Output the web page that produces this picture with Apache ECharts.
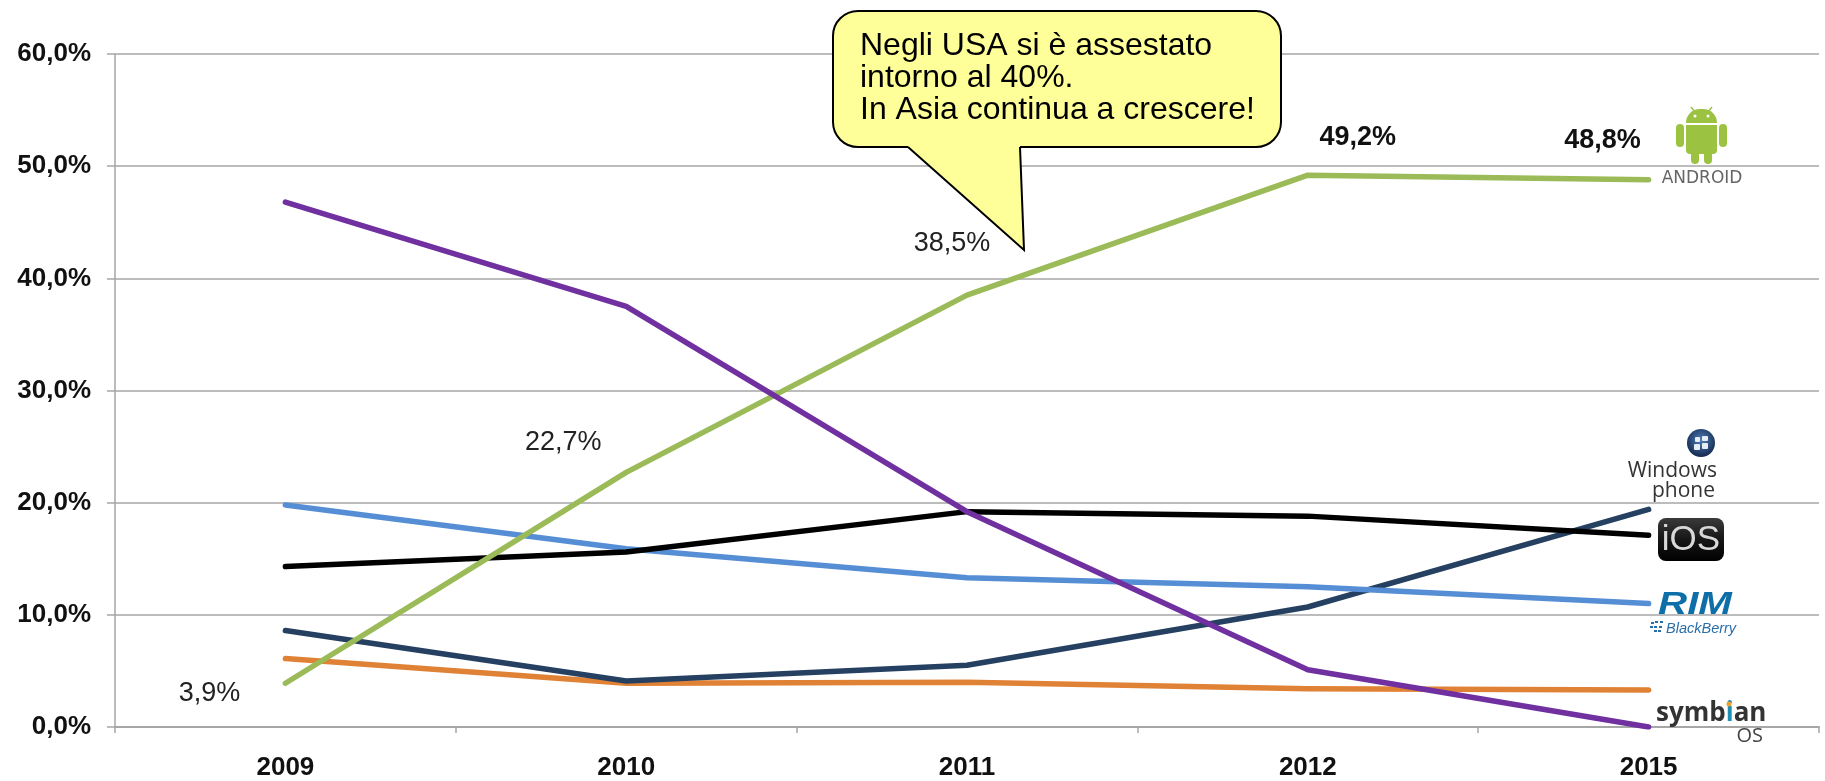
<!DOCTYPE html>
<html>
<head>
<meta charset="utf-8">
<title>Smartphone OS</title>
<style>
  html, body { margin: 0; padding: 0; background: #fff; }
  #chart { width: 1825px; height: 781px; }
</style>
<script src="https://cdn.jsdelivr.net/npm/echarts@6/dist/echarts.min.js"></script>
</head>
<body>
<div id="chart"></div>
<script>
const years = ["2009", "2010", "2011", "2012", "2015"];
const yTickLabels = ["0,0%", "10,0%", "20,0%", "30,0%", "40,0%", "50,0%", "60,0%"];

const android = [3.9, 22.7, 38.5, 49.2, 48.8];
const androidLabels = ["3,9%", "22,7%", "38,5%", "49,2%", "48,8%"];
const symbian = [46.8, 37.5, 19.2, 5.1, 0];
const rim = [19.8, 15.9, 13.3, 12.5, 11.0];
const ios = [14.3, 15.6, 19.2, 18.8, 17.1];
const windowsPhone = [8.6, 4.1, 5.5, 10.7, 19.4];
const others = [6.1, 3.9, 4.0, 3.4, 3.3];

const calloutLines = ["Negli USA si è assestato", "intorno al 40%.", "In Asia continua a crescere!"];

const FONT = '"Liberation Sans", Arial, sans-serif';
const GREY = "#a6a6a6";

function lineSeries(name, data, color) {
  return {
    name: name,
    type: "line",
    data: data,
    symbol: "none",
    smooth: false,
    lineStyle: { color: color, width: 5.5, cap: "round", join: "round" },
  };
}

// label offsets from the point, the labels sit away from the line
const labelOffsets = [[-76, 24], [-63, -16], [-15, -38], [50, -24], [-46, -26]];
const androidSeries = lineSeries("Android", android, "#9bbb59");
androidSeries.symbol = "circle";
androidSeries.symbolSize = 0.1;
androidSeries.itemStyle = { color: "#9bbb59" };
androidSeries.data = android.map((v, i) => ({
  value: v,
  label: {
    show: true,
    position: "top",
    distance: 0,
    offset: labelOffsets[i],
    formatter: androidLabels[i],
    fontFamily: FONT,
    fontSize: 27,
    fontWeight: i >= 3 ? "bold" : "normal",
    color: i >= 3 ? "#111" : "#222",
  },
}));

// text placed by its baseline, zrender has no alphabetic align
function logoText(x, baseline, text, size, font, fill, align) {
  return {
    type: "text",
    x: x,
    y: baseline - 0.35 * size,
    style: { text: text, font: font.replace("SIZE", size + "px"), fill: fill, align: align, verticalAlign: "middle" },
  };
}

function androidLogo() {
  const green = "#9bc240";
  const s = { fill: green };
  return [
    { type: "rect", shape: { x: 1686, y: 109, width: 31, height: 14, r: [15, 15, 0, 0] }, style: s },
    { type: "rect", shape: { x: 1686, y: 125, width: 31, height: 29, r: [0, 0, 4, 4] }, style: s },
    { type: "rect", shape: { x: 1676, y: 124, width: 8, height: 23, r: 4 }, style: s },
    { type: "rect", shape: { x: 1719, y: 124, width: 8, height: 23, r: 4 }, style: s },
    { type: "rect", shape: { x: 1691, y: 150, width: 8, height: 14, r: 4 }, style: s },
    { type: "rect", shape: { x: 1704, y: 150, width: 8, height: 14, r: 4 }, style: s },
    { type: "line", shape: { x1: 1691, y1: 107, x2: 1695, y2: 112 }, style: { stroke: green, lineWidth: 1.5 } },
    { type: "line", shape: { x1: 1712, y1: 107, x2: 1708, y2: 112 }, style: { stroke: green, lineWidth: 1.5 } },
    { type: "circle", shape: { cx: 1695, cy: 116, r: 1.5 }, style: { fill: "#fff" } },
    { type: "circle", shape: { cx: 1708, cy: 116, r: 1.5 }, style: { fill: "#fff" } },
    logoText(1702, 185, "ANDROID", 17, 'SIZE "DejaVu Sans"', "#666", "center"),
  ];
}

function windowsLogo() {
  const squares = [[1695, 437, 5, 5], [1702, 436, 6, 5], [1694, 444, 6, 6], [1702, 443, 6, 6]];
  const out = [
    {
      type: "circle",
      shape: { cx: 1701, cy: 443, r: 14 },
      style: { fill: { type: "radial", x: 0.5, y: 0.4, r: 0.6, colorStops: [{ offset: 0, color: "#4f7fb8" }, { offset: 1, color: "#14284f" }] } },
    },
  ];
  squares.forEach((q) => {
    out.push({ type: "rect", shape: { x: q[0], y: q[1], width: q[2], height: q[3], r: 1 }, style: { fill: "#e8edf3" } });
  });
  out.push(logoText(1717, 478, "Windows", 21, 'SIZE "Open Sans"', "#333", "right"));
  out.push(logoText(1715, 498, "phone", 21, 'SIZE "Open Sans"', "#333", "right"));
  return out;
}

function iosLogo() {
  return [
    { type: "rect", shape: { x: 1658, y: 518, width: 66, height: 43, r: 8 }, style: { fill: { type: "linear", x: 0, y: 0, x2: 0, y2: 1, colorStops: [{ offset: 0, color: "#3a3a3a" }, { offset: 0.5, color: "#161616" }, { offset: 1, color: "#000" }] } } },
    logoText(1691, 553, "iOS", 35, "SIZE " + FONT, "#d8d8d8", "center"),
  ];
}

function rimLogo() {
  const dots = [[1651, 622], [1655, 621], [1660, 621], [1650, 626], [1654, 626], [1659, 626], [1654, 630], [1658, 630]];
  const rimText = logoText(1695, 616, "RIM", 32, "italic bold SIZE " + FONT, "#0e6fa8", "center");
  rimText.scaleX = 1.26;
  const out = [
    rimText,
    logoText(1666, 634, "BlackBerry", 14.5, "italic SIZE " + FONT, "#2a6ea8", "left"),
  ];
  dots.forEach((d) => {
    out.push({ type: "rect", shape: { x: d[0], y: d[1], width: 3, height: 2 }, style: { fill: "#2a6ea8" } });
  });
  return out;
}

function symbianLogo() {
  return [
    {
      type: "text", x: 1656, y: 714,
      style: {
        text: "{a|symb}{b|i}{a|an}",
        align: "left",
        verticalAlign: "middle",
        rich: {
          a: { font: 'bold 26px "Open Sans"', fill: "#333" },
          b: { font: 'bold 26px "Open Sans"', fill: "#1d8fb5" },
        },
      },
    },
    { type: "circle", shape: { cx: 1729, cy: 704, r: 2.5 }, style: { fill: "#f0a030" } },
    logoText(1763, 743, "OS", 20, 'SIZE "Open Sans"', "#444", "right"),
  ];
}

function callout() {
  const out = [
    { type: "rect", shape: { x: 833, y: 11, width: 448, height: 136, r: 25 }, style: { fill: "#ffff99", stroke: "#000", lineWidth: 2 } },
    { type: "polygon", shape: { points: [[908, 146], [1024, 250], [1020, 146]] }, style: { fill: "#ffff99" } },
    { type: "rect", shape: { x: 908, y: 145, width: 112, height: 4 }, style: { fill: "#ffff99" } },
    { type: "polyline", shape: { points: [[908, 147], [1024, 250], [1020, 147]] }, style: { fill: "none", stroke: "#000", lineWidth: 2 } },
  ];
  calloutLines.forEach((t, i) => {
    out.push(logoText(860, 57 + i * 32, t, 32, "SIZE " + FONT, "#000", "left"));
  });
  return out;
}

const chart = echarts.init(document.getElementById("chart"));

chart.setOption({
  animation: false,
  backgroundColor: "#fff",
  grid: { left: 115, right: 6, top: 54, bottom: 53 },
  xAxis: {
    type: "category",
    data: years,
    boundaryGap: true,
    axisLine: { lineStyle: { color: GREY, width: 2 } },
    axisTick: { show: true, length: 6, lineStyle: { color: GREY, width: 1.5 } },
    axisLabel: { margin: 28, fontFamily: FONT, fontSize: 26, fontWeight: "bold", color: "#111", lineHeight: 26 },
  },
  yAxis: {
    type: "value",
    min: 0,
    max: 60,
    interval: 10,
    axisLine: { show: true, lineStyle: { color: GREY, width: 1.5 } },
    axisTick: { show: true, length: 8, lineStyle: { color: GREY, width: 1.5 } },
    splitLine: { lineStyle: { color: GREY, width: 1.5 } },
    axisLabel: {
      margin: 24,
      padding: [0, 0, 2, 0],
      fontFamily: FONT,
      fontSize: 26,
      fontWeight: "bold",
      color: "#111",
      formatter: (v) => yTickLabels[v / 10],
    },
  },
  series: [
    lineSeries("Others", others, "#e08236"),
    lineSeries("Windows Phone", windowsPhone, "#254061"),
    lineSeries("RIM", rim, "#558ed5"),
    lineSeries("iOS", ios, "#000000"),
    androidSeries,
    lineSeries("Symbian", symbian, "#7030a0"),
  ],
  graphic: [].concat(androidLogo(), windowsLogo(), iosLogo(), rimLogo(), symbianLogo(), callout()).map((g) => Object.assign({ z: 100 }, g)),
});

window.addEventListener("resize", function () {
  chart.resize();
});
</script>
</body>
</html>
